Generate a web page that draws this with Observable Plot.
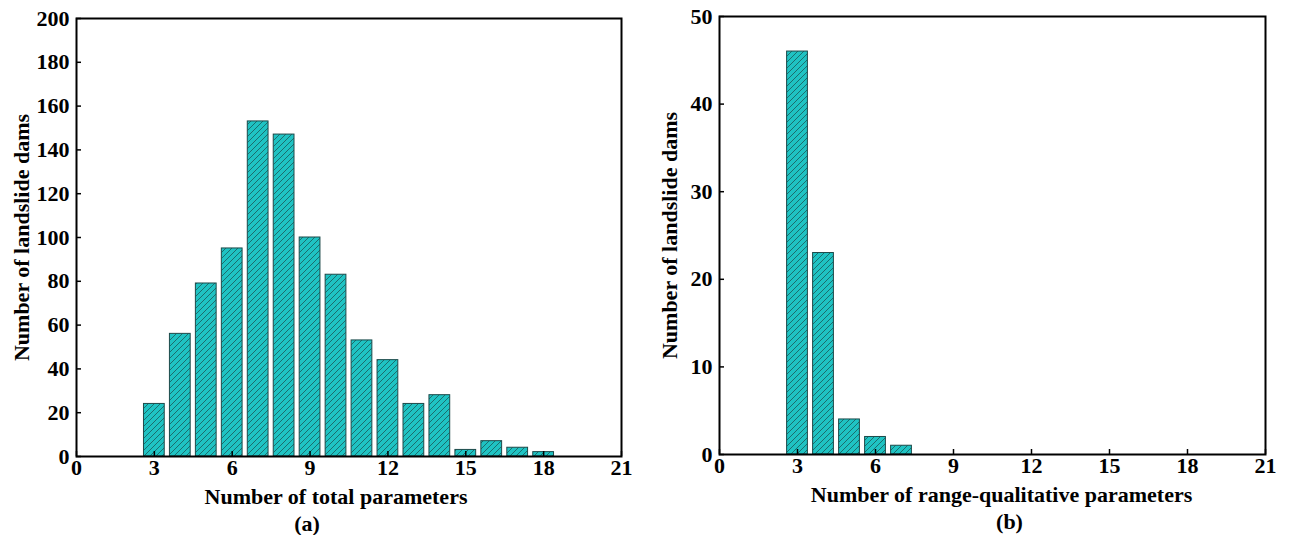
<!DOCTYPE html>
<html>
<head>
<meta charset="utf-8">
<script src="https://cdn.jsdelivr.net/npm/d3@7"></script>
<script src="https://cdn.jsdelivr.net/npm/@observablehq/plot@0.6"></script>
<style>
  html, body { margin: 0; padding: 0; background: #fff; }
  #wrap { position: relative; width: 1291px; height: 535px; overflow: hidden; }
  #wrap > div { position: absolute; top: 0; }
  svg { font-family: "Liberation Serif", "Times New Roman", serif; }
</style>
</head>
<body>
<div id="wrap"><div id="pa" style="left:0"></div><div id="pb" style="left:645px"></div></div>
<script>
// ---- data ----
const totalParams = [3, 4, 5, 6, 7, 8, 9, 10, 11, 12, 13, 14, 15, 16, 17, 18];
const totalCounts = [24, 56, 79, 95, 153, 147, 100, 83, 53, 44, 24, 28, 3, 7, 4, 2];
const rangeParams = [3, 4, 5, 6, 7];
const rangeCounts = [46, 23, 4, 2, 1];
const xTicks = [0, 3, 6, 9, 12, 15, 18, 21];
const yTicksA = [0, 20, 40, 60, 80, 100, 120, 140, 160, 180, 200];
const yTicksB = [0, 10, 20, 30, 40, 50];
const yLabel = "Number of landslide dams";
const xLabelA = "Number of total parameters";
const xLabelB = "Number of range-qualitative parameters";
const capA = "(a)";
const capB = "(b)";

const FILL = "#1fc3c3", HATCH = "#1b6464", EDGE = "#1d4a4a";

function hatchDefs(id) {
  return () => {
    const g = d3.create("svg:g");
    const p = g.append("defs").append("pattern")
      .attr("id", id).attr("patternUnits", "userSpaceOnUse")
      .attr("width", 6).attr("height", 6);
    p.append("rect").attr("width", 6).attr("height", 6).attr("fill", FILL);
    p.append("path").attr("d", "M-1,1 l2,-2 M0,6 l6,-6 M5,7 l2,-2")
      .attr("stroke", HATCH).attr("stroke-width", 0.9);
    return g.node();
  };
}

function panel({xs, vs, yDomain, yTicks, xLabel, cap, id, width, mL, mR, mT, mB, xlDx, capDx, ylDx}) {
  const data = xs.map((x, i) => ({x, v: vs[i]}));
  const height = 535;
  const plotW = width - mL - mR, plotH = height - mT - mB;
  const font = {fontSize: 22, fontWeight: "bold", fill: "black"};
  return Plot.plot({
    width, height, marginLeft: mL, marginRight: mR, marginTop: mT, marginBottom: mB,
    style: {fontFamily: '"Liberation Serif", "Times New Roman", serif', background: "white", color: "black"},
    x: {domain: [0, 21]},
    y: {domain: yDomain},
    marks: [
      hatchDefs(id),
      Plot.rectY(data, {x1: d => d.x - 0.4, x2: d => d.x + 0.4, y: "v",
        fill: `url(#${id})`, stroke: EDGE, strokeWidth: 1}),
      Plot.tickX(xTicks, {x: d => d, insetTop: plotH - 5, stroke: "black", strokeWidth: 1.5}),
      Plot.tickY(yTicks, {y: d => d, insetRight: plotW - 5, stroke: "black", strokeWidth: 1.5}),
      Plot.axisX({ticks: xTicks, tickSize: 0, tickPadding: 3, label: null, tickFormat: d => String(d), ...font}),
      Plot.axisY({ticks: yTicks, tickSize: 0, tickPadding: 7, label: null, tickFormat: d => String(d), ...font}),
      Plot.text([xLabel], {text: d => d, frameAnchor: "bottom", textAnchor: "middle", lineAnchor: "middle", dy: 40, dx: xlDx, ...font}),
      Plot.text([cap], {text: d => d, frameAnchor: "bottom", textAnchor: "middle", lineAnchor: "middle", dy: 67, dx: capDx, ...font}),
      Plot.text([yLabel], {text: d => d, frameAnchor: "left", textAnchor: "middle", lineAnchor: "middle", dx: ylDx, rotate: -90, ...font}),
      Plot.frame({stroke: "black", strokeWidth: 2})
    ]
  });
}

document.getElementById("pa").append(panel({
  xs: totalParams, vs: totalCounts, yDomain: [0, 200], yTicks: yTicksA,
  xLabel: xLabelA, cap: capA, id: "hatchA", width: 645,
  mL: 76, mR: 24, mT: 18, mB: 79, xlDx: -13, capDx: -42, ylDx: -55
}));
document.getElementById("pb").append(panel({
  xs: rangeParams, vs: rangeCounts, yDomain: [0, 50], yTicks: yTicksB,
  xLabel: xLabelB, cap: capB, id: "hatchB", width: 646,
  mL: 74, mR: 26, mT: 16, mB: 81, xlDx: 9, capDx: 17, ylDx: -50
}));
</script>
</body>
</html>
